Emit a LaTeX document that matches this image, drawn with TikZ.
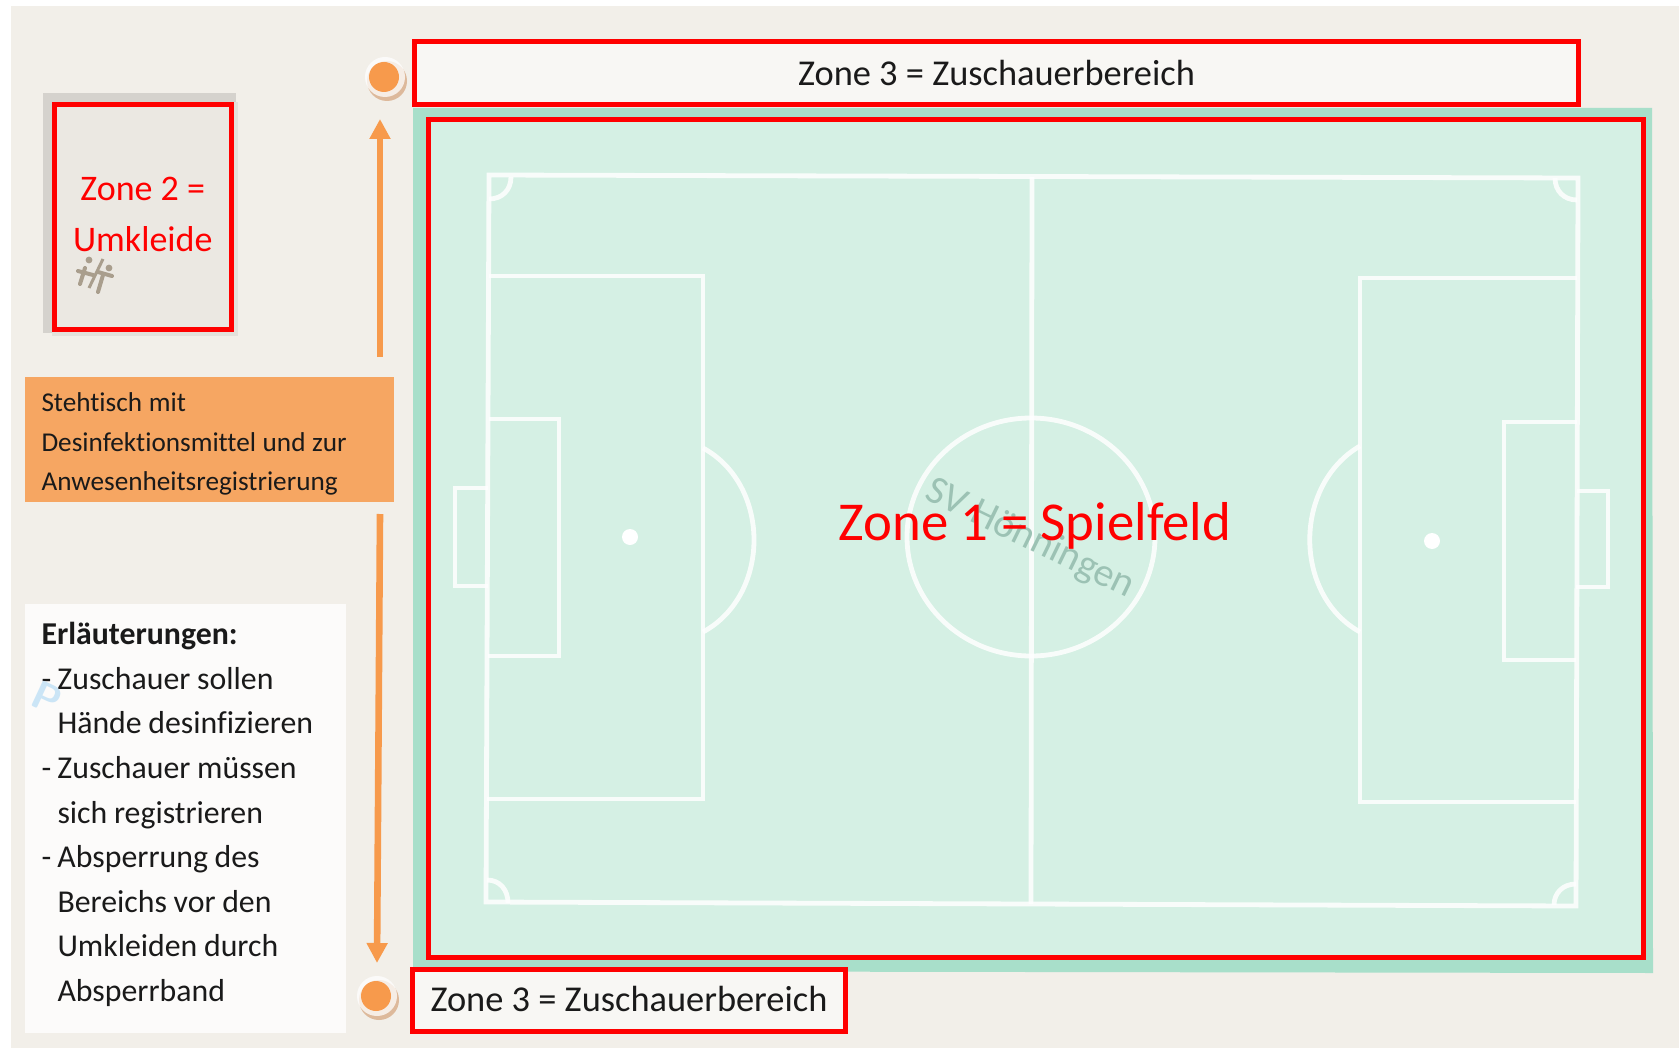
\documentclass[tikz,border=0pt]{standalone}
\usepackage{fontspec}
\setmainfont[Ligatures=NoCommon]{Carlito}
\usetikzlibrary{arrows.meta}
\definecolor{pagebg}{HTML}{F2EFE9}
\definecolor{redz}{HTML}{FF0000}
\definecolor{orangea}{HTML}{F79A4C}
\definecolor{orangeb}{HTML}{F6A662}
\definecolor{fieldbg}{HTML}{D5F0E4}
\definecolor{fieldedge}{HTML}{A8DFCA}
\definecolor{tanshadow}{HTML}{DDB99B}
\definecolor{iconc}{HTML}{A99E8D}
\definecolor{txt}{HTML}{1A1A1A}
\definecolor{paleblue}{HTML}{CBE5F6}
\tikzset{
  zonebox/.style={draw=redz,line width=2.5pt,rectangle,inner sep=0pt},
  infobox/.style={rectangle,inner ysep=0pt,inner xsep=8.5pt,text=txt,align=left},
  flow/.style={draw=orangea,line width=3.3pt,-{Triangle[length=10pt,width=10pt]}},
  pitch/.style={draw=white,line width=2.4pt,opacity=.85},
  dotc/.style={circle,fill=orangea,minimum size=15pt,inner sep=0pt},
  ringw/.style={circle,fill=white,opacity=.75,minimum size=20pt,inner sep=0pt},
  ringt/.style={circle,fill=tanshadow,minimum size=20pt,inner sep=0pt},
  icn/.style={draw=iconc,line width=2pt,line cap=round}
}
\begin{document}
\begin{tikzpicture}[x=0.5pt,y=-0.5pt]
\useasboundingbox (0,0) rectangle (1679,1048);
\fill[white] (0,0) rectangle (1679,1048);
\fill[pagebg] (11,6) rectangle (1679,1048);

% field
\fill[fieldedge] (413,108) -- (1652,108) -- (1653,973) -- (413,971) -- cycle;
\node[zonebox,fill=fieldbg,minimum width=607.5pt,minimum height=419pt] (zoneone) at (1036,538.5) {};

% pitch markings
\draw[pitch] (489,175) -- (1578,178) -- (1576,906) -- (486,902) -- cycle;
\draw[pitch] (1032,177) -- (1031,904);
\draw[pitch] (1031,537) ellipse [x radius=62pt,y radius=59.5pt];
\draw[pitch] (489,276) -- (703,276) -- (703,799) -- (487,799);
\draw[pitch] (489,419) -- (559,419) -- (559,656) -- (488,656);
\draw[pitch] (488,488) -- (455,488) -- (455,586) -- (488,586);
\draw[pitch] (703,448) .. controls (771,485) and (771,595) .. (703,632);
\draw[pitch] (1577,278) -- (1360,278) -- (1360,802) -- (1576,802);
\draw[pitch] (1577,422) -- (1504,422) -- (1504,660) -- (1576,660);
\draw[pitch] (1577,491) -- (1608,491) -- (1608,587) -- (1576,587);
\draw[pitch] (1360,446) .. controls (1293,485) and (1293,595) .. (1360,632);
\draw[pitch] (511,177) .. controls (511,190) and (502,199) .. (489,199);
\draw[pitch] (1555,178) .. controls (1555,191) and (1564,200) .. (1577,200);
\draw[pitch] (487,880) .. controls (500,880) and (508,890) .. (508,903);
\draw[pitch] (1576,884) .. controls (1563,884) and (1554,893) .. (1554,905);
\fill[white] (630,537) circle (4pt);
\fill[white] (1432,541) circle (4pt);

% watermark
\node[rotate=-26,text=fieldedge!70!gray,font=\fontsize{20}{24}\selectfont] (wm) at (1030,539) {SV Hönningen};
\node[text=redz,font=\fontsize{27.4}{32}\selectfont,inner sep=0pt] (zoneonelabel) at (1035,526) {Zone 1 = Spielfeld};

% zone 3 boxes
\node[zonebox,fill=white!50!pagebg,minimum width=582pt,minimum height=31.5pt,text=txt,font=\fontsize{18.2}{22}\selectfont] (zonethreetop) at (996.5,73) {Zone 3 = Zuschauerbereich};
\node[zonebox,fill=white!50!pagebg,minimum width=216.75pt,minimum height=31pt,text=txt,font=\fontsize{18.2}{22}\selectfont] (zonethreebottom) at (629,1000.5) {\raisebox{2pt}{Zone 3 = Zuschauerbereich}};

% zone 2
\fill[black!12!pagebg] (43,93) rectangle (236,333);
\fill[black!6!pagebg] (52,102) rectangle (238,336);
\node[zonebox,fill=black!3!pagebg,minimum width=88.25pt,minimum height=112.25pt,text=redz,align=center,font=\fontsize{18}{25.5}\selectfont] (zonetwo) at (142.75,216.75) {Zone 2 =\\Umkleide\par\vspace*{2pt}};

% changing room icon
\fill[iconc] (89,260) circle (1.7pt);
\draw[icn] (85,268) -- (80,284);
\draw[icn] (78,271) -- (93,275);
\draw[iconc,line width=1.5pt] (103,259) -- (89,288);
\fill[iconc] (109,268) circle (1.7pt);
\draw[icn] (103,275) -- (98,292);
\draw[icn] (98,272) -- (112,276);

% orange table
\node[infobox,fill=orangeb,minimum width=184.5pt,minimum height=62.5pt,text width=167.5pt] (tabletext) at (209,439.5) {\fontsize{13.6}{19.6}\selectfont Stehtisch mit\\Desinfektionsmittel und zur\\Anwesenheitsregistrierung\par\vspace*{-4.4pt}};

% explanations
\node[infobox,fill=white!75!pagebg,minimum width=160.5pt,minimum height=214.5pt,text width=143.5pt] (notes) at (185,818.5) {\fontsize{15.9}{22.3}\selectfont\textbf{Erläuterungen:}\\
\makebox[8pt][l]{-}Zuschauer sollen\\
\hspace*{8pt}Hände desinfizieren\\
\makebox[8pt][l]{-}Zuschauer müssen\\
\hspace*{8pt}sich registrieren\\
\makebox[8pt][l]{-}Absperrung des\\
\hspace*{8pt}Bereichs vor den\\
\hspace*{8pt}Umkleiden durch\\
\hspace*{8pt}Absperrband\par\vspace*{4pt}};
\node[text=paleblue,rotate=-25,font=\bfseries\sffamily\fontsize{20}{22}\selectfont,inner sep=0pt] (pmark) at (47,698) {P};

% markers
\node[ringt] (ringa) at (387,81) {};
\node[ringw] (whitea) at (385,77) {};
\node[dotc] (dota) at (384,77) {};
\node[ringt] (ringb) at (379,1000) {};
\node[ringw] (whiteb) at (377,996) {};
\node[dotc] (dotb) at (376,996) {};

% arrows
\coordinate (upstart) at (380,357);
\coordinate (upend) at (380,119);
\coordinate (downstart) at (380,514);
\coordinate (downend) at (377,963);
\draw[flow] (upstart) -- (upend);
\draw[flow] (downstart) -- (downend);
\end{tikzpicture}
\end{document}
